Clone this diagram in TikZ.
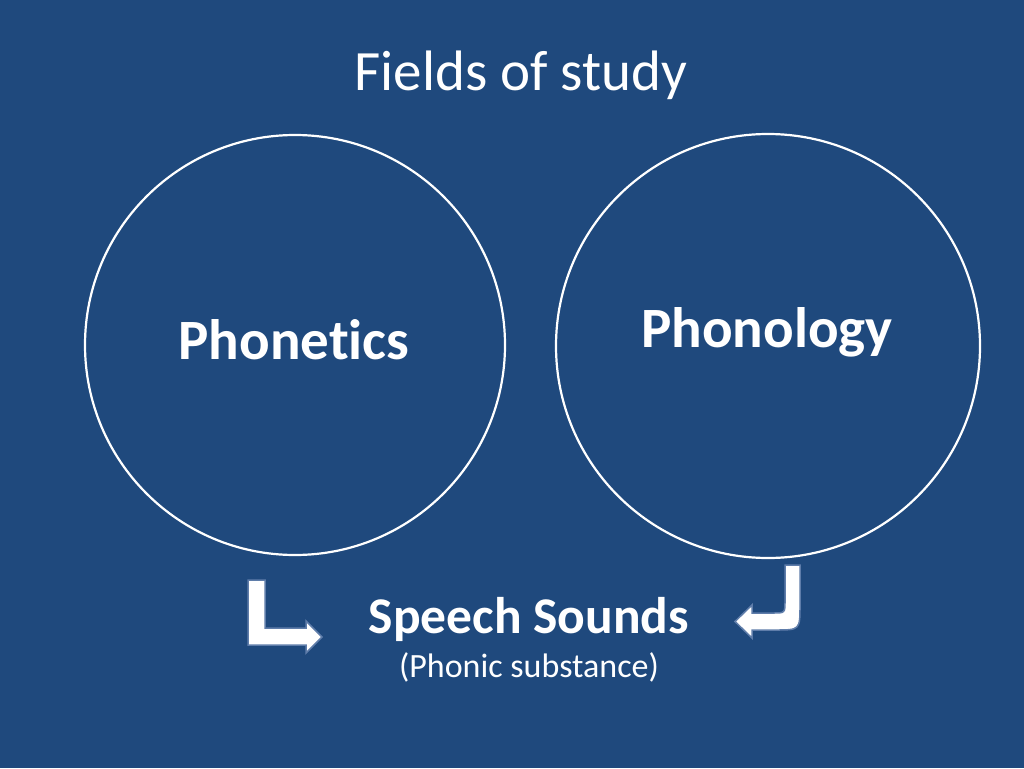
\documentclass[tikz,border=0pt]{standalone}
\usepackage{fontspec}
\setmainfont[Ligatures={NoCommon}]{Carlito}
\definecolor{bg}{RGB}{31,73,125}
\definecolor{glow}{RGB}{95,125,170}
\tikzset{
  ring/.style={draw=white, line width=2.2pt, circle, minimum size=#1, inner sep=0pt},
  bigbold/.style={text=white, font=\fontsize{57}{68}\selectfont\bfseries},
  arrowshape/.style={fill=white, draw=glow, line width=1.5pt, line join=miter},
  txt/.style={text=white, inner sep=0pt}
}
\begin{document}
\begin{tikzpicture}[x=1pt,y=-1pt]
\fill[bg] (0,0) rectangle (1024,768);
\useasboundingbox (0,0) rectangle (1024,768);
\node[txt, font=\fontsize{57}{68}\selectfont] (title) at (521,75) {Fields of study};
\node[ring=420pt] (c1) at (295,345) {};
\node[ring=424pt] (c2) at (768,346) {};
\node[txt, bigbold] (ph1) at (294,340) {Phonetics};
\node[txt, bigbold] (ph2) at (767,332) {Phonology};
\node[txt, font=\fontsize{51.5}{62}\selectfont\bfseries] (ss) at (529,619) {Speech Sounds};
\node[txt, font=\fontsize{34}{41}\selectfont] (ps) at (529,667) {(Phonic substance)};
\draw[arrowshape] (248,580) -- (265,580) -- (265,628) -- (306,628) -- (306,621) -- (322,637) -- (306,653) -- (306,645) -- (248,645) -- cycle;
\draw[arrowshape] (785,565) -- (800,565) -- (800,605) .. controls (800,630) .. (775,630) -- (752,630) -- (752,638) -- (735,621.5) -- (752,605) -- (752,613) -- (773,613) .. controls (785,613) .. (785,601) -- cycle;
\end{tikzpicture}
\end{document}
